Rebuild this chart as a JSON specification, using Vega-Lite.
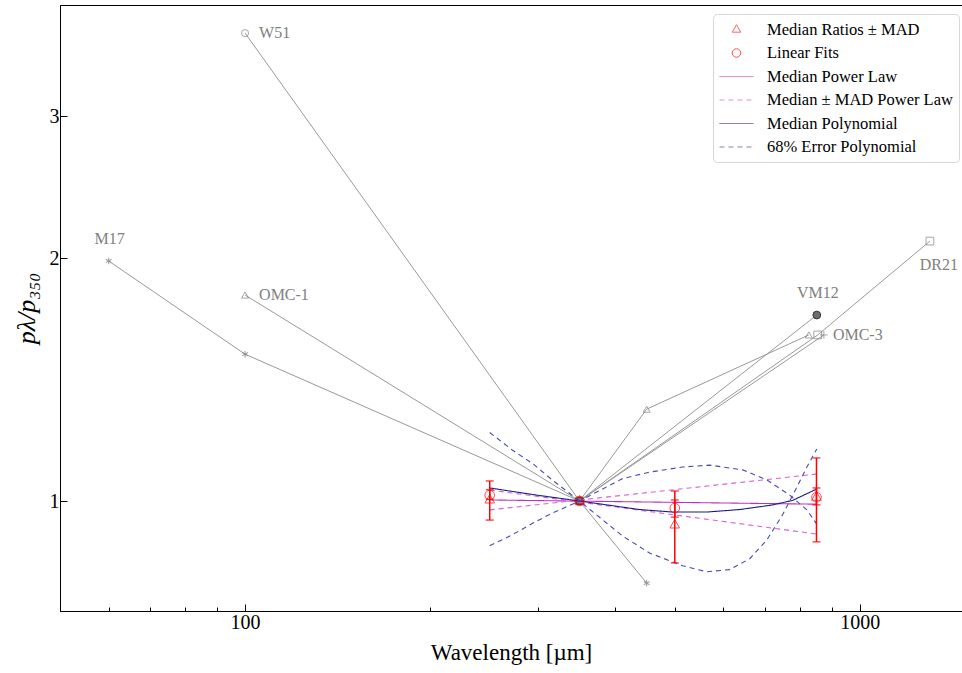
{
  "$schema": "https://vega.github.io/schema/vega-lite/v6.json",
  "width": 902,
  "height": 606,
  "autosize": "none",
  "padding": {"left": 60, "top": 5, "right": 0, "bottom": 62},
  "background": "white",
  "config": {
    "view": {"stroke": "black", "strokeWidth": 1},
    "font": "Liberation Serif",
    "axis": {"grid": false, "domainColor": "black", "tickColor": "black", "labelColor": "black", "titleColor": "black", "labelFont": "Liberation Serif", "titleFont": "Liberation Serif", "titleFontWeight": "normal"},
    "legend": {
      "orient": "none", "legendX": 653, "legendY": 9,
      "labelFont": "Liberation Serif", "labelFontSize": 16.5, "labelColor": "black", "labelLimit": 400,
      "symbolSize": 324, "symbolStrokeWidth": 1, "symbolFillColor": "transparent", "symbolOffset": 8,
      "fillColor": "white", "strokeColor": "#d6d6d6", "cornerRadius": 4,
      "padding": 6, "rowPadding": 5.5, "labelOffset": 21
    }
  },
  "datasets": {
    "src": [
      {"src": "M17", "wl": 60, "r": 1.985}, {"src": "M17", "wl": 100, "r": 1.521}, {"src": "M17", "wl": 350, "r": 1}, {"src": "M17", "wl": 450, "r": 0.791},
      {"src": "W51", "wl": 100, "r": 3.806}, {"src": "W51", "wl": 350, "r": 1},
      {"src": "OMC-1", "wl": 100, "r": 1.801}, {"src": "OMC-1", "wl": 350, "r": 1},
      {"src": "OMC-3a", "wl": 350, "r": 1}, {"src": "OMC-3a", "wl": 450, "r": 1.30}, {"src": "OMC-3a", "wl": 826, "r": 1.607},
      {"src": "DR21", "wl": 350, "r": 1}, {"src": "DR21", "wl": 854, "r": 1.607}, {"src": "DR21", "wl": 1300, "r": 2.101},
      {"src": "OMC-3b", "wl": 350, "r": 1}, {"src": "OMC-3b", "wl": 874, "r": 1.607},
      {"src": "VM12", "wl": 350, "r": 1}, {"src": "VM12", "wl": 851, "r": 1.701}
    ],
    "labels": [
      {"label": "W51", "wl": 100, "r": 3.806},
      {"label": "OMC-1", "wl": 100, "r": 1.801},
      {"label": "M17", "wl": 60, "r": 1.985},
      {"label": "VM12", "wl": 851, "r": 1.701},
      {"label": "DR21", "wl": 1300, "r": 2.101},
      {"label": "OMC-3", "wl": 874, "r": 1.607}
    ],
    "curves": [
      {"series": "Median Power Law", "curve": "pl", "wl": 250, "r": 1.003},
      {"series": "Median Power Law", "curve": "pl", "wl": 850, "r": 0.991},
      {"series": "Median ± MAD Power Law", "curve": "plp", "wl": 250, "r": 0.975},
      {"series": "Median ± MAD Power Law", "curve": "plp", "wl": 850, "r": 1.080},
      {"series": "Median ± MAD Power Law", "curve": "plm", "wl": 250, "r": 1.032},
      {"series": "Median ± MAD Power Law", "curve": "plm", "wl": 850, "r": 0.910},
      {"series": "Median Polynomial", "curve": "poly", "wl": 250, "r": 1.038},
      {"series": "Median Polynomial", "curve": "poly", "wl": 298, "r": 1.017},
      {"series": "Median Polynomial", "curve": "poly", "wl": 350, "r": 1.0},
      {"series": "Median Polynomial", "curve": "poly", "wl": 438, "r": 0.976},
      {"series": "Median Polynomial", "curve": "poly", "wl": 496, "r": 0.969},
      {"series": "Median Polynomial", "curve": "poly", "wl": 564, "r": 0.969},
      {"series": "Median Polynomial", "curve": "poly", "wl": 638, "r": 0.976},
      {"series": "Median Polynomial", "curve": "poly", "wl": 722, "r": 0.989},
      {"series": "Median Polynomial", "curve": "poly", "wl": 778, "r": 1.002},
      {"series": "Median Polynomial", "curve": "poly", "wl": 851, "r": 1.035},
      {"series": "68% Error Polynomial", "curve": "pa", "wl": 250, "r": 1.216},
      {"series": "68% Error Polynomial", "curve": "pa", "wl": 272, "r": 1.157},
      {"series": "68% Error Polynomial", "curve": "pa", "wl": 294, "r": 1.112},
      {"series": "68% Error Polynomial", "curve": "pa", "wl": 316, "r": 1.062},
      {"series": "68% Error Polynomial", "curve": "pa", "wl": 350, "r": 1.0},
      {"series": "68% Error Polynomial", "curve": "pa", "wl": 411, "r": 0.905},
      {"series": "68% Error Polynomial", "curve": "pa", "wl": 455, "r": 0.862},
      {"series": "68% Error Polynomial", "curve": "pa", "wl": 515, "r": 0.831},
      {"series": "68% Error Polynomial", "curve": "pa", "wl": 564, "r": 0.817},
      {"series": "68% Error Polynomial", "curve": "pa", "wl": 614, "r": 0.822},
      {"series": "68% Error Polynomial", "curve": "pa", "wl": 662, "r": 0.848},
      {"series": "68% Error Polynomial", "curve": "pa", "wl": 706, "r": 0.895},
      {"series": "68% Error Polynomial", "curve": "pa", "wl": 749, "r": 0.962},
      {"series": "68% Error Polynomial", "curve": "pa", "wl": 790, "r": 1.041},
      {"series": "68% Error Polynomial", "curve": "pa", "wl": 820, "r": 1.102},
      {"series": "68% Error Polynomial", "curve": "pa", "wl": 851, "r": 1.160},
      {"series": "68% Error Polynomial", "curve": "pb", "wl": 250, "r": 0.880},
      {"series": "68% Error Polynomial", "curve": "pb", "wl": 272, "r": 0.908},
      {"series": "68% Error Polynomial", "curve": "pb", "wl": 294, "r": 0.939},
      {"series": "68% Error Polynomial", "curve": "pb", "wl": 316, "r": 0.966},
      {"series": "68% Error Polynomial", "curve": "pb", "wl": 350, "r": 1.0},
      {"series": "68% Error Polynomial", "curve": "pb", "wl": 411, "r": 1.066},
      {"series": "68% Error Polynomial", "curve": "pb", "wl": 455, "r": 1.086},
      {"series": "68% Error Polynomial", "curve": "pb", "wl": 515, "r": 1.102},
      {"series": "68% Error Polynomial", "curve": "pb", "wl": 570, "r": 1.108},
      {"series": "68% Error Polynomial", "curve": "pb", "wl": 645, "r": 1.093},
      {"series": "68% Error Polynomial", "curve": "pb", "wl": 706, "r": 1.062},
      {"series": "68% Error Polynomial", "curve": "pb", "wl": 769, "r": 1.017},
      {"series": "68% Error Polynomial", "curve": "pb", "wl": 820, "r": 0.975},
      {"series": "68% Error Polynomial", "curve": "pb", "wl": 851, "r": 0.936}
    ],
    "pts": [
      {"series": "Median Ratios ± MAD", "wl": 250, "r": 1.003},
      {"series": "Median Ratios ± MAD", "wl": 350, "r": 1.0},
      {"series": "Median Ratios ± MAD", "wl": 500, "r": 0.934},
      {"series": "Median Ratios ± MAD", "wl": 850, "r": 1.011},
      {"series": "Linear Fits", "wl": 250, "r": 1.017},
      {"series": "Linear Fits", "wl": 350, "r": 1.0},
      {"series": "Linear Fits", "wl": 500, "r": 0.980},
      {"series": "Linear Fits", "wl": 850, "r": 1.011}
    ],
    "err": [
      {"wl": 250, "lo": 0.947, "hi": 1.059},
      {"wl": 500, "lo": 0.838, "hi": 1.029},
      {"wl": 850, "lo": 0.890, "hi": 1.131},
      {"wl": 250, "lo": 1.005, "hi": 1.033},
      {"wl": 500, "lo": 0.955, "hi": 1.003},
      {"wl": 850, "lo": 0.989, "hi": 1.038}
    ]
  },
  "encoding": {
    "x": {
      "field": "wl", "type": "quantitative",
      "scale": {"type": "log", "domain": [50, 1466], "nice": false},
      "axis": {
        "title": "Wavelength [µm]", "titleFontSize": 23, "titlePadding": 9,
        "values": [60, 70, 80, 90, 100, 200, 300, 400, 500, 600, 700, 800, 900, 1000],
        "format": "d",
        "labelExpr": "datum.value == 100 || datum.value == 1000 ? datum.label : ''",
        "labelFontSize": 20, "labelPadding": 8,
        "tickSize": {"condition": {"test": "datum.value == 100 || datum.value == 1000", "value": -7}, "value": -4}
      }
    },
    "y": {
      "field": "r", "type": "quantitative",
      "scale": {"type": "log", "domain": [0.7304, 4.124], "nice": false},
      "axis": {
        "title": "pλ/p₃₅₀", "titleFontSize": 26, "titleFontStyle": "italic", "titlePadding": 10,
        "values": [1, 2, 3], "format": "d",
        "labelFontSize": 20, "labelPadding": 8, "tickSize": -7
      }
    }
  },
  "layer": [
    {
      "data": {"name": "src"},
      "mark": {"type": "line", "color": "#999999", "strokeWidth": 1},
      "encoding": {"detail": {"field": "src"}, "order": {"field": "wl"}}
    },
    {
      "data": {"name": "src"},
      "transform": [{"filter": "datum.src == 'M17'"}],
      "mark": {"type": "point", "shape": "M0,-1V1M-0.87,-0.5L0.87,0.5M-0.87,0.5L0.87,-0.5", "size": 44, "color": "#7a7a7a", "filled": false, "strokeWidth": 1.1}
    },
    {
      "data": {"name": "src"},
      "transform": [{"filter": "datum.src == 'W51'"}],
      "mark": {"type": "point", "shape": "circle", "size": 50, "color": "#808080", "filled": false, "strokeWidth": 1}
    },
    {
      "data": {"name": "src"},
      "transform": [{"filter": "datum.src == 'OMC-1' || datum.src == 'OMC-3a'"}],
      "mark": {"type": "point", "shape": "triangle-up", "size": 50, "color": "#808080", "filled": false, "strokeWidth": 1}
    },
    {
      "data": {"name": "src"},
      "transform": [{"filter": "datum.src == 'DR21'"}],
      "mark": {"type": "point", "shape": "square", "size": 60, "color": "#808080", "filled": false, "strokeWidth": 1}
    },
    {
      "data": {"name": "src"},
      "transform": [{"filter": "datum.src == 'OMC-3b'"}],
      "mark": {"type": "point", "shape": "M-1,0H1M0,-1V1", "size": 60, "color": "#808080", "filled": false, "strokeWidth": 1}
    },
    {
      "data": {"name": "src"},
      "transform": [{"filter": "datum.src == 'VM12'"}],
      "mark": {"type": "point", "shape": "circle", "size": 60, "fill": "#6e6e6e", "stroke": "#333333", "filled": true, "opacity": 1, "strokeWidth": 1}
    },
    {
      "data": {"name": "labels"},
      "transform": [{"filter": "datum.label == 'W51' || datum.label == 'OMC-1'"}],
      "mark": {"type": "text", "align": "left", "baseline": "middle", "dx": 14, "fontSize": 16, "color": "#808080", "font": "Liberation Serif"},
      "encoding": {"text": {"field": "label"}}
    },
    {
      "data": {"name": "labels"},
      "transform": [{"filter": "datum.label == 'OMC-3'"}],
      "mark": {"type": "text", "align": "left", "baseline": "middle", "dx": 9, "fontSize": 16, "color": "#808080", "font": "Liberation Serif"},
      "encoding": {"text": {"field": "label"}}
    },
    {
      "data": {"name": "labels"},
      "transform": [{"filter": "datum.label == 'M17' || datum.label == 'VM12'"}],
      "mark": {"type": "text", "align": "center", "baseline": "middle", "dy": -22, "dx": 1, "fontSize": 16, "color": "#808080", "font": "Liberation Serif"},
      "encoding": {"text": {"field": "label"}}
    },
    {
      "data": {"name": "labels"},
      "transform": [{"filter": "datum.label == 'DR21'"}],
      "mark": {"type": "text", "align": "center", "baseline": "middle", "dx": 9, "dy": 24, "fontSize": 16, "color": "#808080", "font": "Liberation Serif"},
      "encoding": {"text": {"field": "label"}}
    },
    {
      "data": {"name": "curves"},
      "mark": {"type": "line", "strokeWidth": 1.1},
      "encoding": {
        "detail": {"field": "curve"},
        "order": {"field": "wl"},
        "color": {
          "field": "series", "type": "nominal",
          "scale": {
            "domain": ["Median Ratios ± MAD", "Linear Fits", "Median Power Law", "Median ± MAD Power Law", "Median Polynomial", "68% Error Polynomial"],
            "range": ["#ff0000", "#ff0000", "#c030c0", "#d860d8", "#1a1a8c", "#4a4ab0"]
          },
          "legend": {"title": null}
        },
        "strokeDash": {
          "field": "series", "type": "nominal",
          "scale": {
            "domain": ["Median Ratios ± MAD", "Linear Fits", "Median Power Law", "Median ± MAD Power Law", "Median Polynomial", "68% Error Polynomial"],
            "range": [[1, 0], [1, 0], [1, 0], [5, 4], [1, 0], [5, 4]]
          },
          "legend": {"title": null}
        }
      }
    },
    {
      "data": {"name": "err"},
      "mark": {"type": "rule", "color": "#ff0000", "strokeWidth": 1.5},
      "encoding": {"y": {"field": "lo", "type": "quantitative"}, "y2": {"field": "hi"}}
    },
    {
      "data": {"name": "err"},
      "mark": {"type": "tick", "orient": "horizontal", "color": "#ff0000", "size": 8, "thickness": 1.5},
      "encoding": {"y": {"field": "lo", "type": "quantitative"}}
    },
    {
      "data": {"name": "err"},
      "mark": {"type": "tick", "orient": "horizontal", "color": "#ff0000", "size": 8, "thickness": 1.5},
      "encoding": {"y": {"field": "hi", "type": "quantitative"}}
    },
    {
      "data": {"name": "pts"},
      "mark": {"type": "point", "filled": false, "size": 420, "strokeWidth": 1},
      "encoding": {
        "color": {
          "field": "series", "type": "nominal",
          "scale": {
            "domain": ["Median Ratios ± MAD", "Linear Fits", "Median Power Law", "Median ± MAD Power Law", "Median Polynomial", "68% Error Polynomial"],
            "range": ["#ff0000", "#ff0000", "#c030c0", "#d860d8", "#1a1a8c", "#4a4ab0"]
          },
          "legend": {"title": null}
        },
        "shape": {
          "field": "series", "type": "nominal",
          "scale": {
            "domain": ["Median Ratios ± MAD", "Linear Fits", "Median Power Law", "Median ± MAD Power Law", "Median Polynomial", "68% Error Polynomial"],
            "range": ["M0,-0.53L0.47,0.3L-0.47,0.3Z", "M0.47,0A0.47,0.47,0,1,1,-0.47,0A0.47,0.47,0,1,1,0.47,0Z", "M-1.89,0H1.89", "M-1.89,0H1.89", "M-1.89,0H1.89", "M-1.89,0H1.89"]
          },
          "legend": {"title": null}
        }
      }
    }
  ]
}
